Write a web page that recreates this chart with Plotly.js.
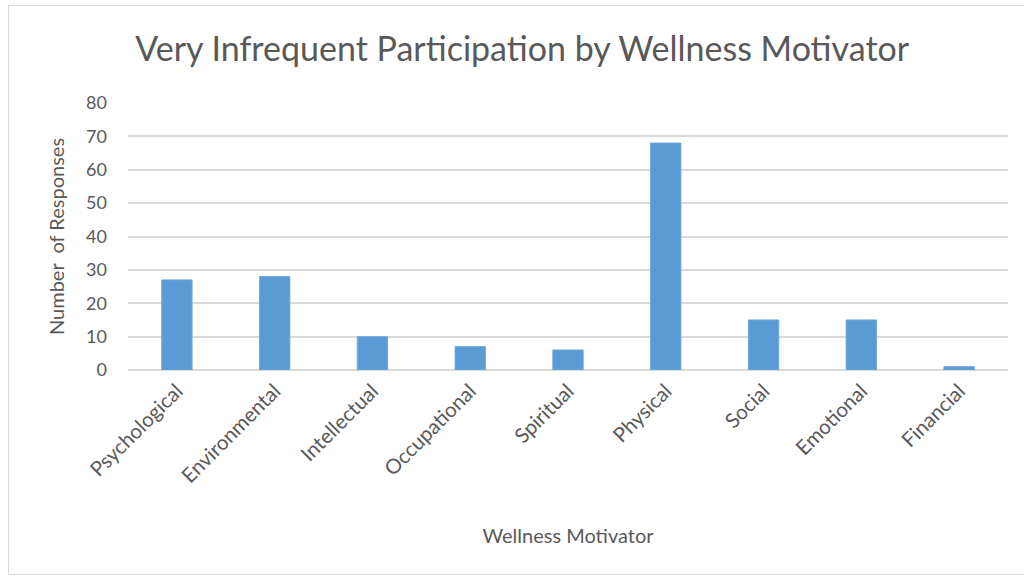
<!DOCTYPE html>
<html>
<head>
<meta charset="utf-8">
<script src="https://cdn.plot.ly/plotly-3.0.1.min.js"></script>
<style>
html,body{margin:0;padding:0;background:#fff;}
#wrap{position:relative;width:1024px;height:578px;}
#chart{width:1024px;height:578px;}
#frame{position:absolute;left:8px;top:5px;width:1020px;height:568px;border:1px solid #d9d9d9;pointer-events:none;}
</style>
</head>
<body>
<div id="wrap"><div id="chart"></div><div id="frame"></div></div>
<script>
const categories = ["Psychological","Environmental","Intellectual","Occupational","Spiritual","Physical","Social","Emotional","Financial"];
const responses = [27, 28, 10, 7, 6, 68, 15, 15, 1];
const yTicks = [0,10,20,30,40,50,60,70,80];

const font = "Lato, 'Open Sans', sans-serif";
Plotly.newPlot('chart', [{
  type: 'bar',
  x: categories,
  y: responses,
  marker: {color: '#5b9bd5', line: {color: '#6fa8dc', width: 1}},
  hoverinfo: 'x+y'
}], {
  width: 1024, height: 578,
  margin: {l: 128, r: 16, t: 103, b: 208},
  paper_bgcolor: '#fff', plot_bgcolor: '#fff',
  bargap: 0.69,
  showlegend: false,
  title: {text: 'Very Infrequent Participation by Wellness Motivator', x: 0.51, xanchor: 'center', y: 0.915, yanchor: 'middle',
          font: {family: font, size: 34, color: '#595959'}},
  xaxis: {
    tickangle: -45, tickfont: {family: font, size: 20.5, color: '#595959'},
    showgrid: false, showline: false, ticks: '', zeroline: false, ticklabelstandoff: 4,
    title: {text: 'Wellness Motivator', standoff: 42, font: {family: font, size: 20, color: '#595959'}}
  },
  yaxis: {
    range: [0, 80], tickvals: yTicks, ticktext: yTicks.map(String),
    tickfont: {family: font, size: 18, color: '#595959'},
    gridcolor: '#d9d9d9', gridwidth: 2, zeroline: true, zerolinecolor: '#d9d9d9', zerolinewidth: 2,
    showline: false, ticks: '', ticklabelstandoff: 20,
    title: {text: 'Number \u00a0of Responses', standoff: 16, font: {family: font, size: 20, color: '#595959'}}
  }
}, {displayModeBar: false, staticPlot: true});
</script>
</body>
</html>
